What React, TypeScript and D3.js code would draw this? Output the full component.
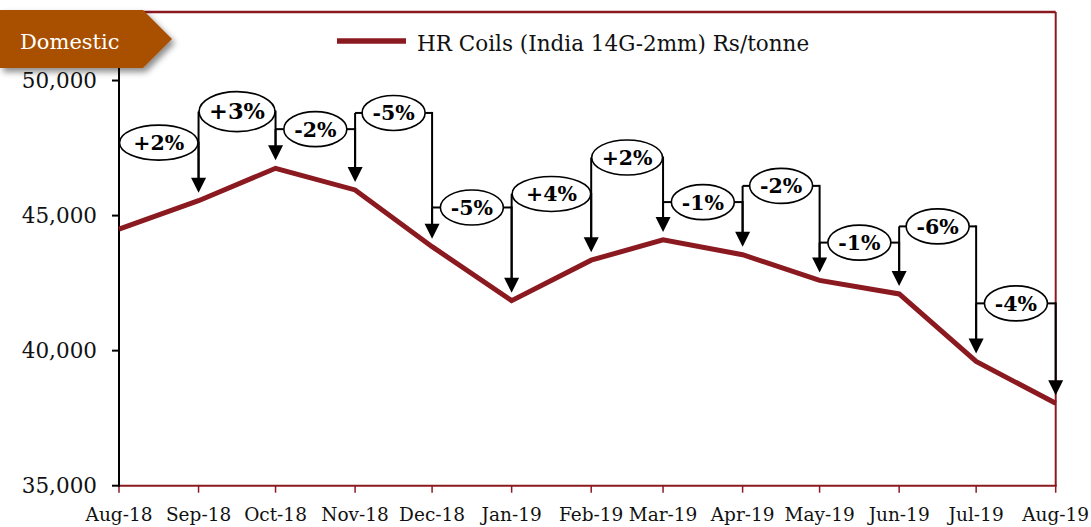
import React from "react";
import * as d3 from "d3";

const months = ["Aug-18","Sep-18","Oct-18","Nov-18","Dec-18","Jan-19","Feb-19","Mar-19","Apr-19","May-19","Jun-19","Jul-19","Aug-19"];
const prices = [44500, 45550, 46750, 45950, 43850, 41850, 43350, 44100, 43550, 42600, 42100, 39600, 38050];
const changes = ["+2%","+3%","-2%","-5%","-5%","+4%","+2%","-1%","-2%","-1%","-6%","-4%"];
const labelLevels = [47700, 48850, 48200, 48800, 45300, 45800, 47150, 45500, 46100, 44000, 44600, 41750];
const yTicks = [35000, 40000, 45000, 50000];
const seriesName = "HR Coils (India 14G-2mm) Rs/tonne";
const bannerText = "Domestic";

const W = 1091, H = 527;
const LEFT = 119, RIGHT = 1055.7, BOTTOM = 485.7, TOP = 13;
const RED = "#8A1A20";
const FONT = "'DejaVu Serif', serif";

export default function App() {
  const parse = d3.timeParse("%b-%y");
  const dates = months.map((m) => parse(m) as Date);
  const x = d3.scaleTime().domain([dates[0], dates[dates.length - 1]]).range([LEFT, RIGHT]);
  const y = d3.scaleLinear().domain([35000, 52500]).range([BOTTOM, TOP]);
  const fmt = d3.format(",");
  const line = d3.line<number>().x((_, i) => x(dates[i])).y((d) => y(d));
  const GAP = 8;

  return (
    <svg width={W} height={H} style={{ position: "absolute", left: 0, top: 0, background: "#fff" }}>
      <defs>
        <filter id="sh" x="-10%" y="-20%" width="130%" height="160%">
          <feDropShadow dx="3" dy="4" stdDeviation="3" floodColor="#000" floodOpacity="0.45" />
        </filter>
      </defs>
      {/* frame */}
      <line x1={LEFT} x2={RIGHT} y1={y(52500) - 1} y2={y(52500) - 1} stroke={RED} strokeWidth={2.5} />
      <line x1={RIGHT} x2={RIGHT} y1={y(52500) - 1} y2={BOTTOM} stroke={RED} strokeWidth={2} />
      <line x1={LEFT} x2={RIGHT + 1} y1={BOTTOM} y2={BOTTOM} stroke={RED} strokeWidth={2} />
      {dates.map((d, i) => (
        <line key={"xt" + i} x1={x(d)} x2={x(d)} y1={BOTTOM} y2={BOTTOM + 7} stroke={RED} strokeWidth={1.5} />
      ))}
      {dates.map((d, i) => (
        <text key={"xl" + i} x={x(d)} y={521} textAnchor="middle" fontFamily={FONT} fontSize={18.5} fill="#111">
          {months[i]}
        </text>
      ))}
      {/* y axis */}
      <line x1={LEFT} x2={LEFT} y1={y(52500) - 1} y2={BOTTOM + 1} stroke="#000" strokeWidth={2} />
      {yTicks.map((t) => (
        <g key={"yt" + t}>
          <line x1={LEFT - 7} x2={LEFT} y1={y(t)} y2={y(t)} stroke="#000" strokeWidth={2} />
          <text x={97} y={y(t) + 7} textAnchor="end" fontFamily={FONT} fontSize={21.5} fill="#111">
            {fmt(t)}
          </text>
        </g>
      ))}
      {/* series */}
      <path d={line(prices) || ""} fill="none" stroke={RED} strokeWidth={5} strokeLinejoin="miter" />
      {/* annotations */}
      {changes.map((c, i) => {
        const x0 = x(dates[i]);
        const x1 = x(dates[i + 1]);
        const cx = (x0 + x1) / 2;
        const cy = y(labelLevels[i]);
        const half = (x1 - x0) / 2;
        const rx = c.startsWith("+") ? half - 0.5 : 31.5;
        const ry = i === 1 ? 20 : 17.5;
        const tip0 = y(prices[i]) - GAP;
        const tip1 = y(prices[i + 1]) - GAP;
        return (
          <g key={"an" + i}>
            {i > 0 && <line x1={x0} x2={x0} y1={cy} y2={tip0 - 8} stroke="#000" strokeWidth={2} />}
            <line x1={x0} x2={cx - rx} y1={cy} y2={cy} stroke="#000" strokeWidth={2} />
            <line x1={cx + rx} x2={x1} y1={cy} y2={cy} stroke="#000" strokeWidth={2} />
            <line x1={x1} x2={x1} y1={cy - 1} y2={tip1 - 10} stroke="#000" strokeWidth={2} />
            <polygon points={`${x1 - 7.5},${tip1 - 15} ${x1 + 7.5},${tip1 - 15} ${x1},${tip1}`} fill="#000" />
            <ellipse cx={cx} cy={cy} rx={rx} ry={ry} fill="#fff" stroke="#000" strokeWidth={1.6} />
            <text x={cx} y={cy + 7.5} textAnchor="middle" fontFamily={FONT} fontWeight="bold" fontSize={i === 1 ? 22.5 : 20.5} fill="#000">
              {c}
            </text>
          </g>
        );
      })}
      {/* legend */}
      <line x1={337} x2={406} y1={41} y2={41} stroke={RED} strokeWidth={5.5} />
      <text x={417} y={51} fontFamily={FONT} fontSize={21.5} fill="#111">
        {seriesName}
      </text>
      {/* banner */}
      <polygon points="0,10 143,10 172,39 143,68 0,68" fill="#A94F05" filter="url(#sh)" />
      <text x={20} y={49} fontFamily={FONT} fontSize={21} fill="#fff">
        {bannerText}
      </text>
    </svg>
  );
}
